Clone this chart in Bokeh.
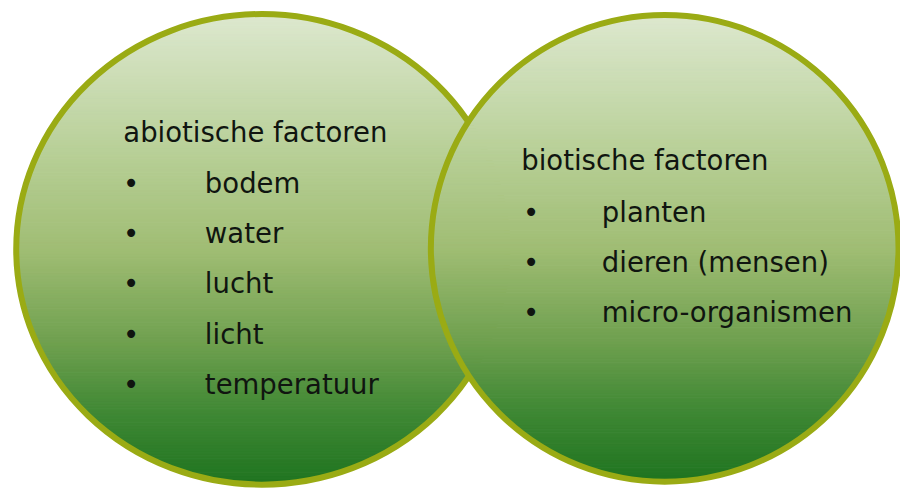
import numpy as np
from bokeh.plotting import figure
from bokeh.models import Range1d, ColumnDataSource
from bokeh.core.properties import value
from bokeh.embed import file_html
from bokeh.resources import INLINE

# ---- content ----
left_title = "abiotische factoren"
left_items = ["bodem", "water", "lucht", "licht", "temperatuur"]
right_title = "biotische factoren"
right_items = ["planten", "dieren (mensen)", "micro-organismen"]

# ---- layout (reference pixel coordinates, y downwards) ----
W, H = 900, 488
p = figure(width=W, height=H, output_backend="svg", toolbar_location=None,
           x_range=Range1d(0, 916), y_range=Range1d(504, 0),
           min_border=0, outline_line_color=None, background_fill_color="white",
           border_fill_color="white")
p.axis.visible = False
p.grid.visible = False

stops_t = [0.0, 0.3, 0.5, 0.7, 0.85, 1.0]
stops_c = ["#dde8cf", "#b7cf96", "#a0bd74", "#6fa04f", "#3f8834", "#1f7420"]


def hex2rgb(h):
    h = h.lstrip("#")
    return np.array([int(h[i:i + 2], 16) for i in (0, 2, 4)], float)


stop_rgb = np.array([hex2rgb(c) for c in stops_c])


def grad(t):
    rgb = [np.interp(t, stops_t, stop_rgb[:, k]) for k in range(3)]
    return "#%02x%02x%02x" % tuple(int(round(v)) for v in rgb)


def draw_disc(cx, cy, rx, ry, n=160):
    xs, ys, cols = [], [], []
    edges = np.linspace(cy - ry, cy + ry, n + 1)
    for i in range(n):
        y0, y1 = edges[i], edges[i + 1]
        yy = np.linspace(y0, y1, 5)
        dx = rx * np.sqrt(np.clip(1 - ((yy - cy) / ry) ** 2, 0, 1))
        px = list(cx + dx) + list((cx - dx)[::-1])
        py = list(yy) + list(yy[::-1])
        xs.append(px)
        ys.append(py)
        cols.append(grad((i + 0.5) / n))
    src = ColumnDataSource(dict(xs=xs, ys=ys, c=cols))
    p.patches("xs", "ys", source=src, fill_color="c", line_color="c", line_width=1)
    p.ellipse(x=[cx], y=[cy], width=[2 * rx], height=[2 * ry], fill_alpha=0,
              line_color="#9aab14", line_width=6)


draw_disc(266, 257, 250, 243)
draw_disc(676, 256, 238, 241)

FONT = value("DejaVu Sans")
TXT = "#101510"
FS = "27.5px"

# left circle text
p.text(x=[125], y=[136], text=[left_title], text_font=FONT, text_font_size=FS,
       text_color=TXT, text_baseline="alphabetic", text_align="left")
ly = [188 + 52 * i for i in range(len(left_items))]
p.text(x=[133] * len(left_items), y=ly, text=["•"] * len(left_items), text_font=FONT,
       text_font_size=FS, text_color=TXT, text_baseline="alphabetic", text_align="center")
p.text(x=[208] * len(left_items), y=ly, text=left_items, text_font=FONT,
       text_font_size=FS, text_color=TXT, text_baseline="alphabetic", text_align="left")

# right circle text
p.text(x=[530], y=[165], text=[right_title], text_font=FONT, text_font_size=FS,
       text_color=TXT, text_baseline="alphabetic", text_align="left")
ry_ = [218 + 52 * i for i in range(len(right_items))]
p.text(x=[540] * len(right_items), y=ry_, text=["•"] * len(right_items), text_font=FONT,
       text_font_size=FS, text_color=TXT, text_baseline="alphabetic", text_align="center")
p.text(x=[612] * len(right_items), y=ry_, text=right_items, text_font=FONT,
       text_font_size=FS, text_color=TXT, text_baseline="alphabetic", text_align="left")

open("out.html", "w").write(file_html(p, INLINE))
